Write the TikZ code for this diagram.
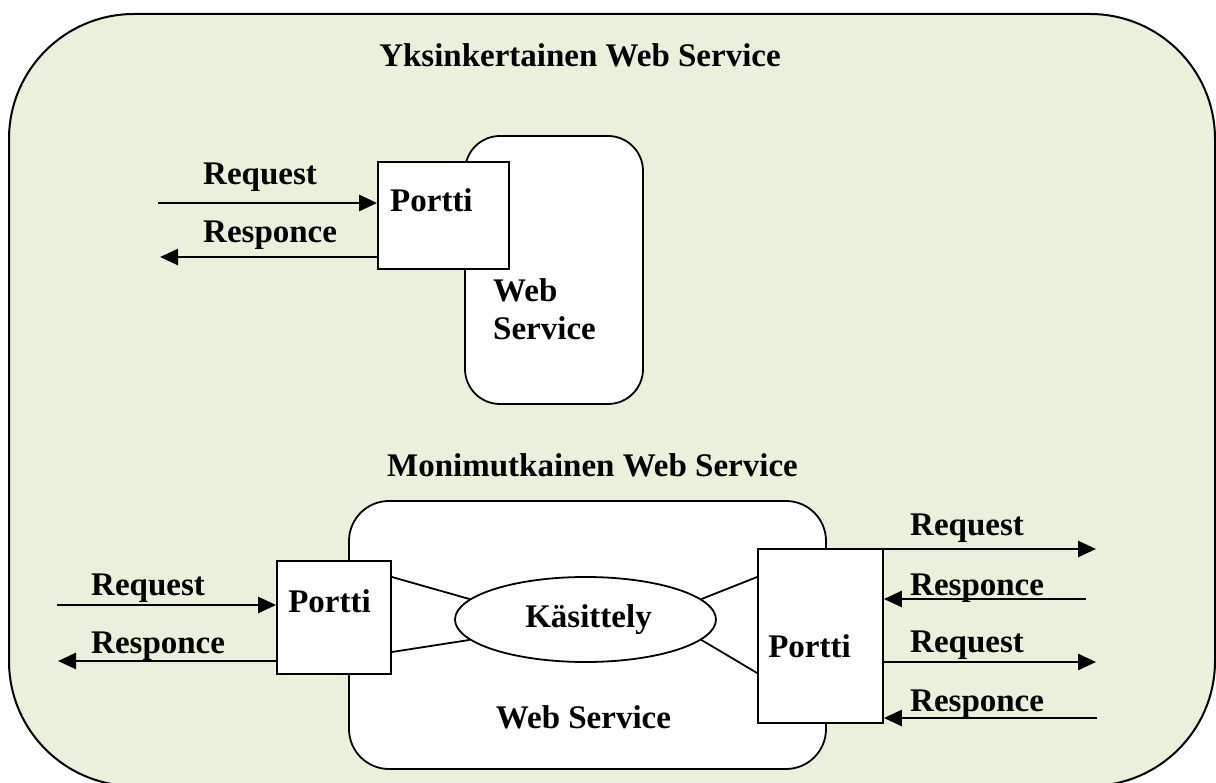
\documentclass[tikz,border=0pt]{standalone}
\usepackage{fontspec}
\setmainfont{Liberation Serif}
\usetikzlibrary{arrows.meta,shapes.geometric}
\definecolor{bgreen}{HTML}{E9F0DC}
\tikzset{
  txt/.style={font=\fontsize{33}{38}\selectfont\bfseries, inner sep=0pt},
  box/.style={draw=black, line width=1.8pt, fill=white, inner sep=0pt},
  arr/.style={line width=2.7pt, -{Triangle[length=18pt,width=16pt]}},
  link/.style={line width=1.8pt},
}
\begin{document}
\begin{tikzpicture}[x=1pt,y=-1pt]
\useasboundingbox (0,0) rectangle (1216,783);
% outer container
\node[draw=black, line width=2pt, fill=bgreen, rounded corners=125pt,
      minimum width=1206pt, minimum height=772pt, inner sep=0pt] (outer) at (612,400) {};

% ---------- simple web service ----------
\node[txt, anchor=base] (t1) at (580,67) {Yksinkertainen Web Service};
\node[box, rounded corners=35pt, minimum width=178pt, minimum height=268pt] (ws1) at (554,270) {};
\node[box, minimum width=131pt, minimum height=107pt] (p1) at (443.5,215.5) {};
\node[txt, anchor=base west] (p1t) at (390,212) {Portti};
\node[txt, anchor=base west] (ws1a) at (493,302) {Web};
\node[txt, anchor=base west] (ws1b) at (493,340) {Service};
\coordinate (r1s) at (158,203);
\coordinate (r1e) at (160,257);
\draw[arr] (r1s) -- (r1s -| p1.west);
\draw[arr] (r1e -| p1.west) -- (r1e);
\node[txt, anchor=base west] (l1) at (203,185) {Request};
\node[txt, anchor=base west] (l2) at (203,243) {Responce};

% ---------- complex web service ----------
\node[txt, anchor=base] (t2) at (592.5,477) {Monimutkainen Web Service};
\node[box, rounded corners=40pt, minimum width=477pt, minimum height=268pt] (ws2) at (587.5,635) {};
\node[txt, anchor=base] (ws2t) at (583.5,728) {Web Service};
\node[box, minimum width=114pt, minimum height=113pt] (p2) at (334,617.5) {};
\node[txt, anchor=base] (p2t) at (329.5,612) {Portti};
\node[box, minimum width=125pt, minimum height=174pt] (p3) at (820.5,636) {};
\node[txt, anchor=base] (p3t) at (809.5,657) {Portti};
\node[draw=black, line width=1.8pt, fill=white, ellipse, inner sep=0pt,
      minimum width=261pt, minimum height=85pt] (ell) at (585.5,619.5) {};
\node[txt, anchor=base] (ellt) at (588.5,627) {Käsittely};

\draw[link] ([yshift=40.5pt]p2.east) -- (ell.170);
\draw[link] ([yshift=-34.5pt]p2.east) -- (ell.190);
\draw[link] ([yshift=59pt]p3.west) -- (ell.10);
\draw[link] ([yshift=-37pt]p3.west) -- (ell.350);

% left arrows
\coordinate (q1) at (57,605);
\coordinate (q2) at (58,661);
\draw[arr] (q1) -- (q1 -| p2.west);
\draw[arr] (q2 -| p2.west) -- (q2);
\node[txt, anchor=base west] (l3) at (91,595) {Request};
\node[txt, anchor=base west] (l4) at (91,653) {Responce};

% right arrows
\coordinate (s1) at (1096,549);
\coordinate (s2) at (1086,599);
\coordinate (s3) at (1096,662);
\coordinate (s4) at (1097,718);
\draw[arr] (s1 -| p3.east) -- (s1);
\draw[arr] (s2) -- (s2 -| p3.east);
\draw[arr] (s3 -| p3.east) -- (s3);
\draw[arr] (s4) -- (s4 -| p3.east);
\node[txt, anchor=base west] (l5) at (910,535) {Request};
\node[txt, anchor=base west] (l6) at (910,595) {Responce};
\node[txt, anchor=base west] (l7) at (910,652) {Request};
\node[txt, anchor=base west] (l8) at (910,711) {Responce};
\end{tikzpicture}
\end{document}
